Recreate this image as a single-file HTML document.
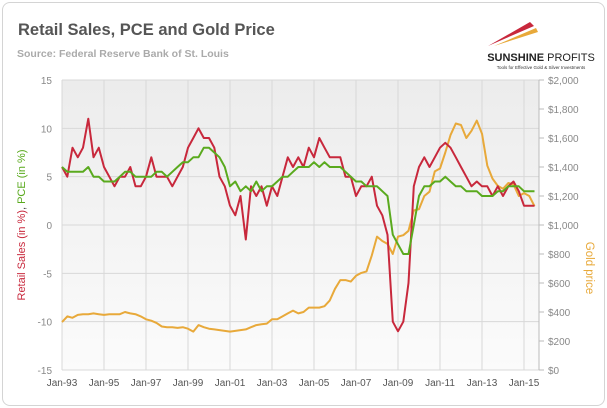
<!DOCTYPE html>
<html><head><meta charset="utf-8"><style>
body{margin:0;background:#fff;width:607px;height:408px;overflow:hidden;font-family:"Liberation Sans",sans-serif}
#card{position:absolute;left:2px;top:2px;width:601px;height:402px;border:1px solid #d4d4d4;border-radius:8px;background:#fff}
</style></head><body>
<div id="card"></div>
<svg id="c" width="607" height="408" style="position:absolute;left:0;top:0">
<defs><linearGradient id="bg" x1="0" y1="0" x2="0" y2="1"><stop offset="0" stop-color="#ececec"/><stop offset="1" stop-color="#fbfbfb"/></linearGradient></defs>
<text x="18" y="35" font-size="16.5" font-weight="bold" fill="#555">Retail Sales, PCE and Gold Price</text>
<text x="17" y="57" font-size="10.5" font-weight="bold" fill="#aaa">Source: Federal Reserve Bank of St. Louis</text>
<g>
<polygon points="488,46 530,22 534,26" fill="#c8283c"/>
<polygon points="494,46 536,28 538,32" fill="#e8a93a"/>
<text x="541" y="61" font-size="11" font-weight="bold" fill="#222" text-anchor="middle">SUNSHINE <tspan font-weight="normal">PROFITS</tspan></text>
<text x="541" y="69" font-size="4.5" fill="#333" text-anchor="middle">Tools for Effective Gold &amp; Silver Investments</text>
</g>
<rect x="62" y="80" width="477" height="290" fill="url(#bg)"/>
<g id="grid"></g><g id="series"></g><g id="axes"></g>
<text transform="translate(25,225) rotate(-90)" font-size="11" text-anchor="middle"><tspan fill="#c8283c">Retail Sales  (in %)</tspan><tspan fill="#555">, </tspan><tspan fill="#5aaa1e">PCE (in %)</tspan></text>
<text transform="translate(586,268) rotate(90)" font-size="11.5" fill="#e8a93a" text-anchor="middle">Gold price</text>
</svg>
<script>
const years=["Jan-93","Jan-95","Jan-97","Jan-99","Jan-01","Jan-03","Jan-05","Jan-07","Jan-09","Jan-11","Jan-13","Jan-15"];
const leftTicks=[15,10,5,0,-5,-10,-15];
const rightTicks=[0,200,400,600,800,1000,1200,1400,1600,1800,2000];
const retail=[6,5,8,7, 8,11,7,8, 6,5,4,5, 5,6,4,4, 5,7,5,5, 5,4,5,6, 8,9,10,9, 9,8,5,4, 2,1,3,-1.5, 4,3,4,2, 4,3,5,7, 6,7,6,8, 7,9,8,7, 7,7,5,5, 3,4,4,5, 2,1,-1,-10, -11,-10,-6,4, 6,7,6,7, 8,8.5,8,7, 6,5,4,4.5, 4,4,3,4, 3,4,4.5,3.5, 2,2,2];
const pce=[6,5.5,5.5,5.5, 5.5,6,5,5, 4.5,4.5,4.5,5, 5.5,5.5,5,5, 5,5,5.5,5.5, 5,5.5,6,6.5, 6.5,7,7,8, 8,7.5,7,6, 4,4.5,3.5,4, 3.5,4.5,3.5,4, 4,4.5,5,5, 5.5,6,6,6, 6.5,6,6.5,6, 6,6,5.5,5, 4.5,4.5,4,4, 4,3.5,3,-1, -2,-3,-3,0, 3,4,4,4.5, 4.5,5,4.5,4, 4,3.5,3.5,3.5, 3,3,3,3.5, 3.5,4,4,4, 3.5,3.5,3.5];
const gold=[330,370,360,380, 385,385,390,385, 380,385,385,385, 400,390,385,370, 350,340,325,300, 295,295,290,295, 285,265,310,295, 285,280,275,270, 265,270,275,280, 295,310,315,320, 350,350,370,390, 410,390,400,430, 430,430,440,480, 560,620,620,610, 650,670,680,790, 920,890,870,800, 920,930,960,1100, 1110,1200,1230,1370, 1390,1500,1620,1700, 1690,1600,1650,1720, 1630,1410,1320,1270, 1250,1290,1280,1200, 1220,1200,1130];
const NS="http://www.w3.org/2000/svg";
const X=t=>62+(t-1993)*21;
const YL=v=>225-v*9.667;
const YR=v=>370-v*0.145;
function mk(tag,attrs,parent){const e=document.createElementNS(NS,tag);for(const k in attrs)e.setAttribute(k,attrs[k]);parent.appendChild(e);return e;}
const grid=document.getElementById('grid'),axes=document.getElementById('axes'),series=document.getElementById('series');
years.forEach((y,i)=>{const x=X(1993+2*i);
 const l=mk('line',{x1:x,x2:x,y1:80,y2:370,stroke:'#d8d8d8','stroke-width':1},grid);
 
 const t=mk('text',{x:x,y:386,'font-size':10,fill:'#555','text-anchor':'middle'},axes);t.textContent=y;
 });
leftTicks.forEach(v=>{const y=YL(v);
 const l=mk('line',{x1:62,x2:539,y1:y,y2:y,stroke:'#d8d8d8','stroke-width':1},grid);
 
 const t=mk('text',{x:52,y:y+4,'font-size':10,fill:'#888','text-anchor':'end'},axes);t.textContent=v;
 });
mk('line',{x1:539,x2:539,y1:80,y2:370,stroke:'#bbb'},axes);
rightTicks.forEach(v=>{const y=YR(v);
 mk('line',{x1:539,x2:544,y1:y,y2:y,stroke:'#bbb'},axes);
 const t=mk('text',{x:548,y:y+4,'font-size':10,fill:'#888'},axes);t.textContent='$'+v.toLocaleString('en-US');
 });
function line(arr,Y,color,name){const d=arr.map((v,i)=>(i?'L':'M')+X(1993+i*0.25).toFixed(1)+','+Y(v).toFixed(1)).join('');
 const p=mk('path',{d:d,fill:'none',stroke:color,'stroke-width':2,'stroke-linejoin':'round'},series);
 }
line(gold,YR,'#e8a93a','gold-price-line');
line(retail,YL,'#c8283c','retail-sales-line');
line(pce,YL,'#5aaa1e','pce-line');
</script>
</body></html>
